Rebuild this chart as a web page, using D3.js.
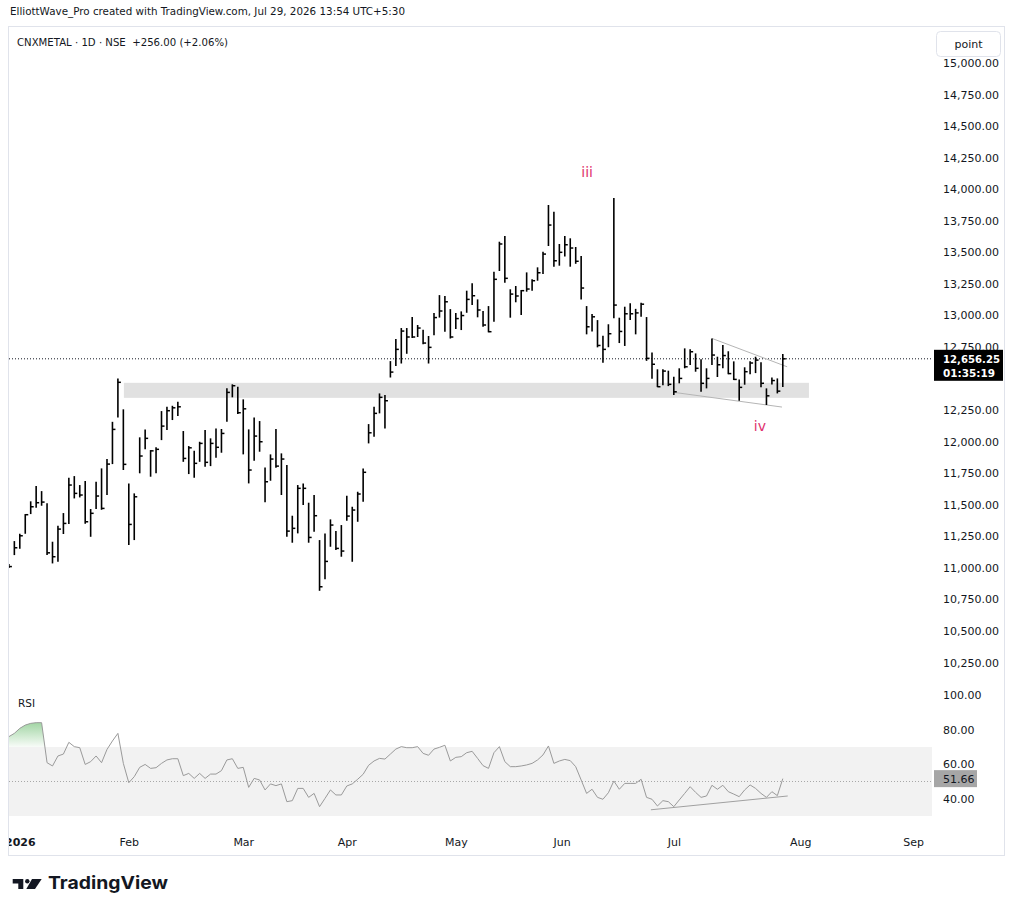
<!DOCTYPE html>
<html>
<head>
<meta charset="utf-8">
<script src="https://cdn.jsdelivr.net/npm/d3@7"></script>
<style>
  body { margin: 0; background: #ffffff; }
  svg { display: block; font-family: 'DejaVu Sans', sans-serif; }
</style>
</head>
<body>
<div id="chart"></div>
<script>
// Global variables initialisation
const width = 1015,
      height = 917;
const plot = { left: 9, right: 932, top: 27, bottom: 680 };

const headerText = 'ElliottWave_Pro created with TradingView.com, Jul 29, 2026 13:54 UTC+5:30',
      legendText = 'CNXMETAL \u00b7 1D \u00b7 NSE  +256.00 (+2.06%)';

// Daily bars (1D)
const highs = [11030, 11212, 11270, 11426, 11527, 11648, 11608, 11511, 11207, 11333,
  11434, 11714, 11727, 11656, 11688, 11466, 11682, 11788, 11862, 12157,
  12501, 12256, 11669, 11590, 12034, 12097, 11933, 11955, 12242, 12276,
  12284, 12316, 12084, 11965, 11927, 11999, 12092, 12026, 12105, 12100,
  12422, 12454, 12435, 12335, 12097, 12192, 12163, 11796, 11899, 12100,
  11907, 11814, 11413, 11656, 11669, 11516, 11577, 11220, 11273, 11384,
  11291, 11339, 11571, 11484, 11603, 11788, 12139, 12276, 12382, 12369,
  12638, 12813, 12900, 12900, 12987, 12924, 12887, 12837, 13019, 13161,
  13154, 13050, 13019, 13032, 13196, 13254, 13127, 13035, 13074, 13346,
  13584, 13629, 13207, 13233, 13201, 13341, 13286, 13381, 13505, 13875,
  13821, 13566, 13629, 13611, 13542, 13470, 13074, 13011, 12963, 12839,
  12930, 13930, 12982, 13069, 13096, 13052, 13100, 12987, 12706, 12573,
  12573, 12562, 12514, 12581, 12739, 12731, 12699, 12652, 12581, 12818,
  12673, 12765, 12716, 12636, 12493, 12589, 12637, 12673, 12629, 12422,
  12509, 12501, 12694];

const lows = [10998, 11101, 11151, 11270, 11426, 11476, 11492, 11101, 11035, 11048,
  11268, 11347, 11550, 11558, 11349, 11246, 11466, 11460, 11577, 11822,
  12192, 11775, 11180, 11220, 11749, 11939, 11722, 11749, 12012, 12092,
  12171, 12203, 11840, 11743, 11714, 11840, 11801, 11806, 11872, 11912,
  12157, 12351, 12218, 11899, 11669, 11848, 11920, 11519, 11690, 11793,
  11577, 11246, 11199, 11273, 11497, 11199, 11286, 10818, 10909, 11167,
  11141, 11088, 11373, 11048, 11365, 11524, 11986, 12039, 12224, 12105,
  12508, 12599, 12619, 12696, 12821, 12829, 12771, 12619, 12842, 12983,
  12871, 12817, 12892, 12884, 13021, 13082, 12985, 12910, 12866, 12950,
  13352, 13259, 12982, 13104, 13003, 13188, 13196, 13275, 13328, 13550,
  13386, 13394, 13466, 13386, 13409, 13127, 12850, 12873, 12747, 12625,
  12748, 12977, 12781, 12758, 12963, 12850, 12989, 12640, 12498, 12432,
  12446, 12440, 12369, 12462, 12581, 12607, 12554, 12395, 12422, 12608,
  12512, 12581, 12534, 12488, 12324, 12451, 12534, 12543, 12430, 12290,
  12452, 12382, 12432];

const closes = [11010, 11159, 11254, 11421, 11484, 11516, 11521, 11119, 11088, 11307,
  11352, 11656, 11590, 11577, 11365, 11432, 11569, 11471, 11822, 12097,
  12470, 11820, 11344, 11563, 11886, 12026, 11927, 11939, 12123, 12245,
  12268, 12276, 11867, 11951, 11828, 11986, 11836, 11986, 11955, 12065,
  12390, 12443, 12229, 12260, 11775, 12044, 11999, 11682, 11862, 11806,
  11862, 11291, 11313, 11630, 11630, 11241, 11413, 10850, 11051, 11339,
  11154, 11133, 11410, 11458, 11585, 11757, 12070, 12224, 12351, 12324,
  12551, 12731, 12876, 12829, 12829, 12900, 12781, 12747, 12983, 13035,
  13108, 12829, 12975, 12999, 13127, 13156, 13043, 12924, 12871, 13286,
  13566, 13294, 13169, 13154, 13196, 13209, 13275, 13338, 13486, 13716,
  13433, 13500, 13560, 13534, 13429, 13217, 12910, 12989, 12762, 12731,
  12855, 13082, 12873, 13013, 13013, 13020, 13089, 12660, 12613, 12435,
  12559, 12454, 12395, 12501, 12593, 12712, 12581, 12462, 12501, 12686,
  12609, 12682, 12539, 12493, 12430, 12554, 12623, 12646, 12462, 12363,
  12484, 12400, 12656.25];

// RSI (14) values, one per bar
const rsi = [76.0, 77.9, 80.8, 82.7, 83.7, 84.1, 84.1, 60.9, 59.0, 64.8,
  65.9, 72.7, 70.2, 69.6, 59.9, 61.5, 64.8, 60.9, 68.6, 73.5,
  77.9, 60.5, 49.3, 52.8, 58.2, 59.9, 57.6, 58.0, 60.5, 62.5,
  63.2, 63.2, 53.4, 54.7, 51.8, 54.7, 51.8, 54.3, 54.3, 56.3,
  62.5, 63.2, 57.6, 58.2, 46.6, 51.8, 50.9, 45.1, 48.6, 47.6,
  48.6, 38.3, 38.9, 46.0, 46.0, 40.8, 43.1, 35.4, 40.2, 45.1,
  42.2, 42.2, 47.4, 48.6, 51.3, 54.2, 59.4, 61.9, 63.4, 63.0,
  65.9, 68.8, 70.2, 69.6, 69.6, 70.2, 66.3, 65.2, 68.8, 69.8,
  71.0, 61.9, 64.0, 64.4, 66.7, 67.5, 63.4, 59.2, 57.6, 66.7,
  70.2, 61.5, 58.6, 58.6, 59.0, 59.6, 60.5, 62.5, 65.4, 70.6,
  60.5, 61.9, 62.8, 62.1, 58.6, 50.9, 43.1, 45.5, 40.8, 39.7,
  43.5, 50.3, 45.5, 48.9, 48.9, 48.9, 51.3, 40.8, 39.7, 35.8,
  38.9, 38.3, 35.4, 39.3, 43.1, 47.0, 43.7, 40.8, 41.6, 47.8,
  45.5, 47.8, 44.1, 42.7, 41.2, 45.1, 48.0, 46.0, 43.1, 40.8,
  44.1, 41.8, 51.66];

// Axis labels (12,500.00 sits under the last price label, so it is not shown)
const priceTicks = [10250, 10500, 10750, 11000, 11250, 11500, 11750, 12000, 12250,
  12750, 13000, 13250, 13500, 13750, 14000, 14250, 14500, 14750, 15000];
const rsiTicks = [40, 60, 80, 100];
const monthLabels = ['2026', 'Feb', 'Mar', 'Apr', 'May', 'Jun', 'Jul', 'Aug', 'Sep'];
const monthBars = [2, 22, 43, 62, 82, 101.4, 122, 145.2, 165.9];

// Drawings (bar index / price)
const zoneBars = [21.1, 146.8],
      zonePrices = [12466, 12347];
const upperLineBars = [129, 142.8],
      upperLinePrices = [12818, 12593];
const lowerLineBars = [122.1, 141.85],
      lowerLinePrices = [12390, 12274];
const rsiLineBars = [117.8, 142.9],
      rsiLineValues = [33.6, 41.6];
const waveLabels = ['iii', 'iv'],
      waveBars = [106.1, 137.8],
      wavePrices = [14100, 12084];

const lastPrice = 12656.25,
      countdown = '01:35:19';

// Scales
const x = d3.scaleLinear()
    .domain([0, 142])
    .range([8.9, 8.9 + 142 * 5.45]);

const y = d3.scaleLinear()
    .domain([10250, 15000])
    .range([662.5, 63]);

const rsiY = d3.scaleLinear()
    .domain([30, 100])
    .range([816, 695.25]);

// Defining the canevas
const svg = d3.select('#chart').append('svg')
    .attr('width', width)
    .attr('height', height)
    .style('background', 'white');

const defs = svg.append('defs');

defs.append('clipPath').attr('id', 'plotClip')
  .append('rect')
    .attr('x', plot.left).attr('y', plot.top)
    .attr('width', plot.right - plot.left).attr('height', 830 - plot.top);

defs.append('clipPath').attr('id', 'obClip')
  .append('rect')
    .attr('x', plot.left).attr('y', 680)
    .attr('width', plot.right - plot.left).attr('height', rsiY(70) - 680);

defs.append('clipPath').attr('id', 'timeClip')
  .append('rect')
    .attr('x', plot.left).attr('y', 830)
    .attr('width', 930).attr('height', 26);

const grad = defs.append('linearGradient')
    .attr('id', 'obGrad')
    .attr('gradientUnits', 'userSpaceOnUse')
    .attr('x1', 0).attr('x2', 0)
    .attr('y1', rsiY(85)).attr('y2', rsiY(70));
grad.append('stop').attr('offset', 0).attr('stop-color', '#4caf50').attr('stop-opacity', 0.55);
grad.append('stop').attr('offset', 1).attr('stop-color', '#4caf50').attr('stop-opacity', 0.04);

// Header
svg.append('text')
    .attr('x', 10)
    .attr('y', 15)
    .attr('font-size', '11px')
    .attr('textLength', 395)
    .attr('lengthAdjust', 'spacingAndGlyphs')
    .style('fill', '#131722')
    .text(headerText);

// Outer frame
svg.append('rect')
    .attr('x', 8.5).attr('y', 26.5)
    .attr('width', 996).attr('height', 829)
    .style('fill', 'none')
    .style('stroke', '#e0e3eb');

const pane = svg.append('g').attr('clip-path', 'url(#plotClip)');

// Support zone
pane.append('rect')
    .attr('x', x(zoneBars[0]))
    .attr('y', y(zonePrices[0]))
    .attr('width', x(zoneBars[1]) - x(zoneBars[0]))
    .attr('height', y(zonePrices[1]) - y(zonePrices[0]))
    .style('fill', '#e1e1e1');

// Last price line
pane.append('line')
    .attr('x1', plot.left).attr('x2', plot.right)
    .attr('y1', y(lastPrice)).attr('y2', y(lastPrice))
    .style('stroke', '#131722')
    .style('stroke-dasharray', '1,2');

// Triangle lines
const drawLine = (g, bars, vals, scale, color) => {
    g.append('line')
        .attr('x1', x(bars[0])).attr('y1', scale(vals[0]))
        .attr('x2', x(bars[1])).attr('y2', scale(vals[1]))
        .style('stroke', color)
        .style('stroke-width', 1);
};
drawLine(pane, upperLineBars, upperLinePrices, y, '#b5b5b5');
drawLine(pane, lowerLineBars, lowerLinePrices, y, '#b5b5b5');

// HLC bars
const bars = pane.append('g')
    .selectAll('g').data(closes)
    .enter().append('g');

bars.append('line')
    .attr('x1', (d, i) => x(i)).attr('x2', (d, i) => x(i))
    .attr('y1', (d, i) => y(highs[i]))
    .attr('y2', (d, i) => y(lows[i]))
    .style('stroke', '#000')
    .style('stroke-width', 1.6);

bars.append('line')
    .attr('x1', (d, i) => x(i)).attr('x2', (d, i) => x(i) + 3)
    .attr('y1', d => y(d)).attr('y2', d => y(d))
    .style('stroke', '#000')
    .style('stroke-width', 1.5);

// Wave labels
pane.selectAll('.wave').data(waveLabels)
    .enter().append('text')
        .attr('class', 'wave')
        .attr('x', (d, i) => x(waveBars[i]))
        .attr('y', (d, i) => y(wavePrices[i]))
        .attr('text-anchor', 'middle')
        .attr('font-size', '14px')
        .style('fill', '#e0336e')
        .text(d => d);

// Legend
svg.append('text')
    .attr('x', 17)
    .attr('y', 46)
    .attr('font-size', '11px')
    .attr('textLength', 211)
    .attr('lengthAdjust', 'spacingAndGlyphs')
    .style('fill', '#131722')
    .style('white-space', 'pre')
    .text(legendText);

// RSI pane
pane.append('rect')
    .attr('x', plot.left)
    .attr('y', rsiY(70))
    .attr('width', plot.right - plot.left)
    .attr('height', rsiY(30) - rsiY(70))
    .style('fill', '#f2f2f2');

pane.append('line')
    .attr('x1', plot.left).attr('x2', plot.right)
    .attr('y1', rsiY(50)).attr('y2', rsiY(50))
    .style('stroke', '#a8a8a8')
    .style('stroke-dasharray', '1,2');

pane.append('path')
    .datum(rsi.slice(0, 8))
    .attr('clip-path', 'url(#obClip)')
    .attr('d', d3.area()
        .x((d, i) => x(i))
        .y0(rsiY(70))
        .y1(d => rsiY(d)))
    .style('fill', 'url(#obGrad)');

pane.append('path')
    .datum(rsi)
    .attr('d', d3.line()
        .x((d, i) => x(i))
        .y(d => rsiY(d)))
    .style('fill', 'none')
    .style('stroke', '#9a9a9a')
    .style('stroke-width', 1);

drawLine(pane, rsiLineBars, rsiLineValues, rsiY, '#a0a0a0');

svg.append('text')
    .attr('x', 18)
    .attr('y', 707)
    .attr('font-size', '10.5px')
    .style('fill', '#131722')
    .text('RSI');

// Price scale
svg.append('g')
    .attr('transform', 'translate(943, 0)')
    .call(d3.axisRight(y)
        .tickValues(priceTicks)
        .tickFormat(d3.format(',.2f'))
        .tickSize(0)
        .tickPadding(0))
    .call(g => g.select('.domain').remove())
    .call(g => g.selectAll('text')
        .attr('font-size', '11px')
        .attr('font-family', "'DejaVu Sans', sans-serif")
        .style('fill', '#131722'));

// RSI scale
svg.append('g')
    .attr('transform', 'translate(943, 0)')
    .call(d3.axisRight(rsiY)
        .tickValues(rsiTicks)
        .tickFormat(d3.format('.2f'))
        .tickSize(0)
        .tickPadding(0))
    .call(g => g.select('.domain').remove())
    .call(g => g.selectAll('text')
        .attr('font-size', '11px')
        .attr('font-family', "'DejaVu Sans', sans-serif")
        .style('fill', '#131722'));

// "point" button
svg.append('rect')
    .attr('x', 933).attr('y', 27)
    .attr('width', 71).attr('height', 31)
    .style('fill', 'white');
svg.append('rect')
    .attr('x', 936.5).attr('y', 31.5)
    .attr('width', 64).attr('height', 25)
    .attr('rx', 4)
    .style('fill', 'white')
    .style('stroke', '#e0e3eb');
svg.append('text')
    .attr('x', 968.5).attr('y', 48)
    .attr('text-anchor', 'middle')
    .attr('font-size', '11px')
    .style('fill', '#131722')
    .text('point');

// Last price label
svg.append('rect')
    .attr('x', 934).attr('y', y(lastPrice) - 9)
    .attr('width', 69).attr('height', 31)
    .style('fill', '#000');
svg.append('text')
    .attr('x', 943).attr('y', y(lastPrice) + 4)
    .attr('font-size', '11px')
    .attr('font-weight', 'bold')
    .attr('textLength', 57)
    .attr('lengthAdjust', 'spacingAndGlyphs')
    .style('fill', '#fff')
    .text(d3.format(',.2f')(lastPrice));
svg.append('text')
    .attr('x', 943).attr('y', y(lastPrice) + 18)
    .attr('font-size', '11px')
    .attr('font-weight', 'bold')
    .attr('textLength', 52)
    .attr('lengthAdjust', 'spacingAndGlyphs')
    .style('fill', '#fff')
    .text(countdown);

// RSI value label
const lastRsi = rsi[rsi.length - 1];
svg.append('rect')
    .attr('x', 934).attr('y', rsiY(lastRsi) - 8.5)
    .attr('width', 43).attr('height', 17)
    .style('fill', '#a6a6a6');
svg.append('text')
    .attr('x', 943).attr('y', rsiY(lastRsi) + 4)
    .attr('font-size', '11px')
    .style('fill', '#131722')
    .text(d3.format('.2f')(lastRsi));

// Time scale
svg.append('g')
    .attr('clip-path', 'url(#timeClip)')
  .append('g')
    .attr('transform', 'translate(0, 838)')
    .call(d3.axisBottom(x)
        .tickValues(monthBars)
        .tickFormat((d, i) => monthLabels[i])
        .tickSize(0)
        .tickPadding(0))
    .call(g => g.select('.domain').remove())
    .call(g => g.selectAll('text')
        .attr('font-size', '11px')
        .attr('font-family', "'DejaVu Sans', sans-serif")
        .attr('font-weight', (d, i) => i === 0 ? 'bold' : 'normal')
        .style('fill', '#131722'));

// TradingView logo
const logo = svg.append('g').style('fill', '#131722');
logo.append('path')
    .attr('d', 'M12.7,879 H23.3 V889 H18.3 V883.5 H12.7 Z');
logo.append('circle')
    .attr('cx', 27.3).attr('cy', 881.2).attr('r', 2.2);
logo.append('path')
    .attr('d', 'M32,879 H41.7 L35,889 H26.3 Z');
logo.append('text')
    .attr('x', 48)
    .attr('y', 889)
    .attr('font-size', '18px')
    .attr('font-weight', 'bold')
    .attr('textLength', 120)
    .attr('lengthAdjust', 'spacingAndGlyphs')
    .style('font-family', 'Inter, sans-serif')
    .text('TradingView');
</script>
</body>
</html>
